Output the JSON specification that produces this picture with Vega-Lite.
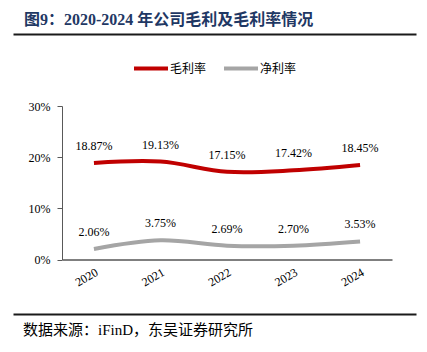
{
  "$schema": "https://vega.github.io/schema/vega-lite/v6.json",
  "background": "white",
  "padding": {"left": 13, "right": 11, "top": 12, "bottom": 0},
  "spacing": 3,
  "resolve": {"legend": {"color": "independent"}},
  "datasets": {
    "rates": [
      {"year": "2020", "type": "毛利率", "value": 0.1887},
      {"year": "2021", "type": "毛利率", "value": 0.1913},
      {"year": "2022", "type": "毛利率", "value": 0.1715},
      {"year": "2023", "type": "毛利率", "value": 0.1742},
      {"year": "2024", "type": "毛利率", "value": 0.1845},
      {"year": "2020", "type": "净利率", "value": 0.0206},
      {"year": "2021", "type": "净利率", "value": 0.0375},
      {"year": "2022", "type": "净利率", "value": 0.0269},
      {"year": "2023", "type": "净利率", "value": 0.0270},
      {"year": "2024", "type": "净利率", "value": 0.0353}
    ]
  },
  "vconcat": [
    {
      "width": 403,
      "height": 12,
      "view": {"stroke": null},
      "title": {
        "text": "图9：2020-2024 年公司毛利及毛利率情况",
        "anchor": "start",
        "dx": 11,
        "offset": 6,
        "fontSize": 16,
        "font": "'Liberation Serif', 'Noto Sans CJK SC'",
        "fontWeight": "bold",
        "color": "#1F3864"
      },
      "data": {"values": [{"rule": "header"}]},
      "mark": {"type": "point", "opacity": 0},
      "encoding": {
        "x": {
          "field": "rule",
          "type": "nominal",
          "axis": {"orient": "top", "title": null, "labels": false, "ticks": false, "domainWidth": 2, "domainColor": "#1a1a1a"}
        }
      }
    },
    {
      "width": 379,
      "height": 153.5,
      "view": {"stroke": null},
      "data": {"name": "rates"},
      "encoding": {
        "x": {
          "field": "year",
          "type": "ordinal",
          "scale": {"type": "point", "padding": 0.48, "range": [49, 379]},
          "axis": {
            "title": null,
            "ticks": false,
            "domainColor": "#000000",
            "labelAngle": -30,
            "labelFont": "Times New Roman",
            "labelFontSize": 12,
            "labelColor": "#000000",
            "labelPadding": 7,
            "minExtent": 51
          }
        },
        "y": {
          "field": "value",
          "type": "quantitative",
          "scale": {"domain": [0, 0.3]},
          "axis": {
            "title": null,
            "offset": -49,
            "values": [0, 0.1, 0.2, 0.3],
            "format": ".0%",
            "grid": false,
            "domainColor": "#595959",
            "tickColor": "#595959",
            "tickSize": 5,
            "labelFont": "Times New Roman",
            "labelFontSize": 12,
            "labelColor": "#000000",
            "labelPadding": 7
          }
        },
        "color": {
          "field": "type",
          "type": "nominal",
          "scale": {"domain": ["毛利率", "净利率"], "range": ["#C00000", "#A5A5A5"]},
          "legend": {
            "title": null,
            "orient": "none",
            "direction": "horizontal",
            "legendX": 119,
            "legendY": -56.5,
            "symbolType": "stroke",
            "symbolSize": 1156,
            "symbolStrokeWidth": 4,
            "labelFont": "Noto Sans CJK SC",
            "labelFontSize": 12,
            "labelColor": "#000000",
            "labelOffset": 0,
            "columnPadding": 9,
            "padding": 0
          }
        }
      },
      "layer": [
        {"mark": {"type": "line", "interpolate": "catmull-rom", "strokeWidth": 4}},
        {
          "mark": {"type": "text", "dy": -17, "font": "Times New Roman", "fontSize": 12},
          "encoding": {
            "text": {"field": "value", "type": "quantitative", "format": ".2%"},
            "color": {"value": "#000000"}
          }
        }
      ]
    },
    {
      "width": 403,
      "height": 12,
      "view": {"stroke": null},
      "title": {
        "text": "数据来源：iFinD，东吴证券研究所",
        "orient": "bottom",
        "anchor": "start",
        "dx": 10,
        "offset": -3,
        "fontSize": 15,
        "font": "'Liberation Serif', 'Noto Sans CJK SC'",
        "fontWeight": "normal",
        "color": "#000000"
      },
      "data": {"values": [{"rule": "footer"}]},
      "mark": {"type": "point", "opacity": 0},
      "encoding": {
        "x": {
          "field": "rule",
          "type": "nominal",
          "axis": {"orient": "top", "title": null, "labels": false, "ticks": false, "domainWidth": 2, "domainColor": "#1a1a1a"}
        }
      }
    }
  ]
}
